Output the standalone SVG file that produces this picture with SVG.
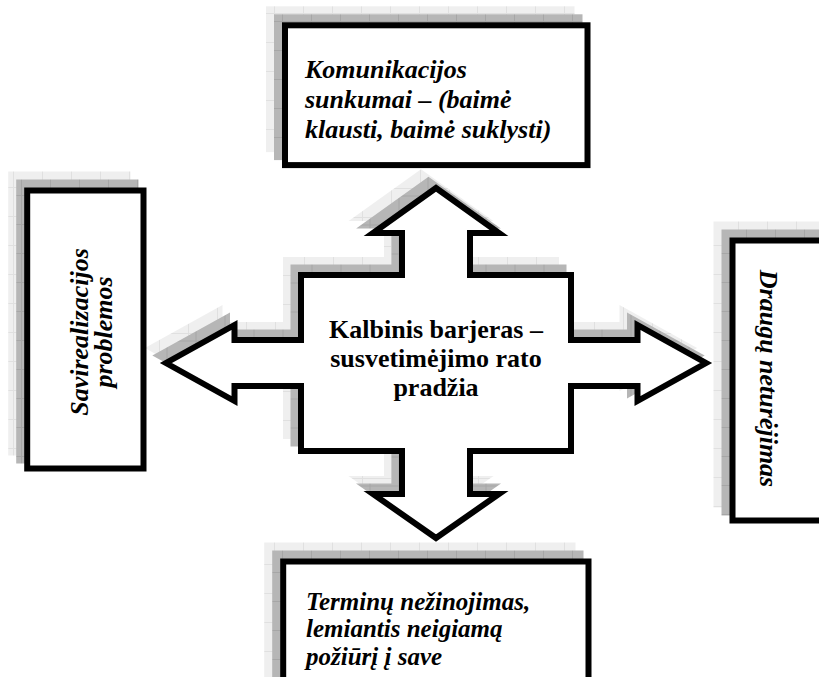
<svg xmlns="http://www.w3.org/2000/svg" xmlns:xlink="http://www.w3.org/1999/xlink" width="819" height="677" viewBox="0 0 819 677">
<style>
  .main { fill: #ffffff; stroke: #000000; stroke-width: 6; stroke-linejoin: miter; stroke-miterlimit: 10; }
  .sh1 { fill: url(#gridLight); stroke: url(#gridLight); stroke-width: 6; stroke-linejoin: miter; }
  .sh2 { fill: url(#gridDark); stroke: url(#gridDark); stroke-width: 6; stroke-linejoin: miter; }
  .lbl { font-family: "Liberation Serif", "Times New Roman", serif; font-size: 26px; font-weight: bold; font-style: italic; fill: #000; }
  .lbl-sm { font-size: 25px; }
  .ctr { font-family: "Liberation Serif", "Times New Roman", serif; font-size: 26px; font-weight: bold; fill: #000; text-anchor: middle; }
</style>
<defs>
  <pattern id="gridLight" patternUnits="userSpaceOnUse" width="29" height="29">
    <rect width="29" height="29" fill="#efefef"/>
    <path d="M0 0.5H29M0.5 0V29" stroke="#e0e0e0" stroke-width="1" fill="none"/>
  </pattern>
  <pattern id="gridDark" patternUnits="userSpaceOnUse" width="29" height="29">
    <rect width="29" height="29" fill="#b6b6b6"/>
    <path d="M0 0.5H29M0.5 0V29" stroke="#a6a6a6" stroke-width="1" fill="none"/>
  </pattern>
  <path id="crossShape" d="M436,188 L499,233 L470,233 L470,275 L571,275 L571,340 L637.5,340 L637.5,325 L706,363 L637.5,401 L637.5,386 L571,386 L571,451 L470,451 L470,494 L499,494 L436,538 L373,494 L402,494 L402,451 L301,451 L301,386 L234.5,386 L234.5,401 L166,363 L234.5,325 L234.5,340 L301,340 L301,275 L402,275 L402,233 L373,233 Z"/>
  <rect id="boxTop" x="285" y="25.3" width="302.5" height="139.8"/>
  <rect id="boxLeft" x="27.2" y="190.5" width="116.3" height="278"/>
  <rect id="boxRight" x="732.5" y="240.5" width="200" height="280"/>
  <rect id="boxBottom" x="283.2" y="561.5" width="305.3" height="200"/>
</defs>

<g id="connectors"></g>

<g id="node-center">
  <use xlink:href="#crossShape" class="sh1" transform="translate(-15,-15)"/>
  <use xlink:href="#crossShape" class="sh2" transform="translate(-7.5,-7.5)"/>
  <use xlink:href="#crossShape" class="main"/>
  <text class="ctr" x="436" y="338">Kalbinis barjeras –</text>
  <text class="ctr" x="436" y="367">susvetimėjimo rato</text>
  <text class="ctr" x="436" y="396">pradžia</text>
</g>

<g id="node-top">
  <use xlink:href="#boxTop" class="sh1" transform="translate(-16,-16)"/>
  <use xlink:href="#boxTop" class="sh2" transform="translate(-8,-8)"/>
  <use xlink:href="#boxTop" class="main"/>
  <text class="lbl" x="305" y="77.5">Komunikacijos</text>
  <text class="lbl" x="305" y="107.5">sunkumai – (baimė</text>
  <text class="lbl" x="305" y="137.5">klausti, baimė suklysti)</text>
</g>

<g id="node-left">
  <use xlink:href="#boxLeft" class="sh1" transform="translate(-16,-16)"/>
  <use xlink:href="#boxLeft" class="sh2" transform="translate(-8,-8)"/>
  <use xlink:href="#boxLeft" class="main"/>
  <text class="lbl" text-anchor="middle" transform="translate(87.5,332) rotate(-90)">Savirealizacijos</text>
  <text class="lbl" text-anchor="middle" transform="translate(112,332) rotate(-90)">problemos</text>
</g>

<g id="node-right">
  <use xlink:href="#boxRight" class="sh1" transform="translate(-16,-16)"/>
  <use xlink:href="#boxRight" class="sh2" transform="translate(-8,-8)"/>
  <use xlink:href="#boxRight" class="main"/>
  <text class="lbl" text-anchor="middle" transform="translate(760,378.5) rotate(90)">Draugų neturėjimas</text>
</g>

<g id="node-bottom">
  <use xlink:href="#boxBottom" class="sh1" transform="translate(-16,-16)"/>
  <use xlink:href="#boxBottom" class="sh2" transform="translate(-8,-8)"/>
  <use xlink:href="#boxBottom" class="main"/>
  <text class="lbl lbl-sm" x="306" y="609.5">Terminų nežinojimas,</text>
  <text class="lbl lbl-sm" x="306" y="637.3">lemiantis neigiamą</text>
  <text class="lbl lbl-sm" x="306" y="665">požiūrį į save</text>
</g>
</svg>
